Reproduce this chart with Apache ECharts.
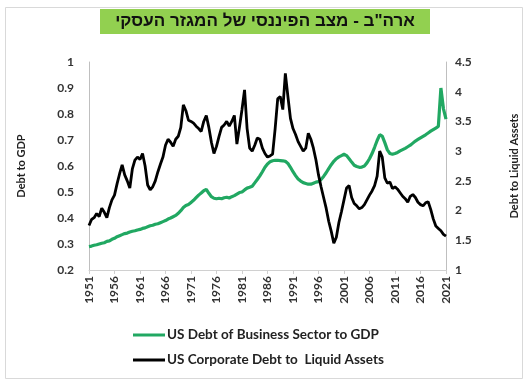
<!DOCTYPE html>
<html>
<head>
<meta charset="utf-8">
<script src="https://cdn.jsdelivr.net/npm/echarts@6/dist/echarts.min.js"></script>
<style>
  html, body { margin: 0; padding: 0; background: #fff; }
  #chart { width: 528px; height: 381px; }
</style>
</head>
<body>
<div id="chart"></div>
<script>
// Half-yearly observations, 1951 H1 .. 2021 H1
const years = [];
for (let y = 1951; y <= 2021; y++) years.push(y);

const tickYears = ['1951','1956','1961','1966','1971','1976','1981','1986','1991','1996','2001','2006','2011','2016','2021'];

// Period labels: H1 carries the year, H2 a suffix
const periods = [];
years.forEach(function (y) {
  periods.push(String(y));
  if (y < 2021) periods.push(y + '-H2');
});

// US debt of business sector to GDP (left axis)
const debtToGdp = [
  0.290, 0.292, 0.295, 0.297, 0.300, 0.303, 0.305, 0.310, 0.312, 0.318, // 1951-1955
  0.322, 0.328, 0.332, 0.336, 0.340, 0.342, 0.346, 0.349, 0.351, 0.354, // 1956-1960
  0.356, 0.360, 0.362, 0.366, 0.370, 0.372, 0.376, 0.378, 0.382, 0.386, // 1961-1965
  0.390, 0.396, 0.400, 0.405, 0.410, 0.418, 0.428, 0.440, 0.448, 0.452, // 1966-1970
  0.460, 0.468, 0.478, 0.488, 0.496, 0.505, 0.510, 0.495, 0.482, 0.476, // 1971-1975
  0.474, 0.476, 0.474, 0.478, 0.480, 0.477, 0.482, 0.486, 0.492, 0.498, // 1976-1980
  0.500, 0.508, 0.515, 0.518, 0.522, 0.535, 0.548, 0.562, 0.578, 0.595, // 1981-1985
  0.608, 0.616, 0.620, 0.622, 0.622, 0.621, 0.620, 0.618, 0.610, 0.595, // 1986-1990
  0.578, 0.563, 0.550, 0.542, 0.536, 0.533, 0.530, 0.530, 0.534, 0.538, // 1991-1995
  0.540, 0.548, 0.560, 0.574, 0.590, 0.605, 0.618, 0.628, 0.635, 0.640, // 1996-2000
  0.645, 0.640, 0.628, 0.615, 0.603, 0.598, 0.595, 0.596, 0.600, 0.612, // 2001-2005
  0.628, 0.648, 0.672, 0.698, 0.720, 0.715, 0.690, 0.662, 0.648, 0.645, // 2006-2010
  0.648, 0.652, 0.658, 0.663, 0.668, 0.674, 0.680, 0.688, 0.696, 0.702, // 2011-2015
  0.708, 0.714, 0.720, 0.727, 0.734, 0.740, 0.746, 0.752, 0.900, 0.820, // 2016-2020
  0.780                                                                  // 2021
];

// US corporate debt to liquid assets (right axis)
const debtToLiquid = [
  1.75, 1.85, 1.88, 1.95, 1.90, 2.04, 1.97, 1.88, 2.05, 2.18, // 1951-1955
  2.26, 2.45, 2.62, 2.77, 2.60, 2.50, 2.38, 2.70, 2.85, 2.90, // 1956-1960
  2.86, 2.96, 2.75, 2.43, 2.35, 2.40, 2.50, 2.65, 2.78, 2.90, // 1961-1965
  3.10, 3.20, 3.15, 3.08, 3.20, 3.25, 3.40, 3.78, 3.68, 3.52, // 1966-1970
  3.50, 3.47, 3.42, 3.38, 3.33, 3.50, 3.60, 3.40, 3.15, 2.96, // 1971-1975
  3.08, 3.25, 3.40, 3.44, 3.50, 3.42, 3.50, 3.60, 3.12, 3.40, // 1976-1980
  3.70, 4.03, 3.38, 3.05, 3.00, 3.10, 3.22, 3.20, 3.05, 2.96, // 1981-1985
  2.90, 2.92, 2.95, 3.38, 3.88, 3.92, 3.70, 4.31, 3.92, 3.55, // 1986-1990
  3.38, 3.28, 3.16, 3.08, 3.00, 3.05, 3.30, 3.20, 3.05, 2.85, // 1991-1995
  2.60, 2.40, 2.22, 2.04, 1.82, 1.65, 1.45, 1.55, 1.80, 1.98, // 1996-2000
  2.18, 2.38, 2.42, 2.22, 2.12, 2.08, 2.03, 2.05, 2.10, 2.18, // 2001-2005
  2.26, 2.33, 2.42, 2.58, 3.00, 2.90, 2.55, 2.46, 2.48, 2.37, // 2006-2010
  2.40, 2.36, 2.30, 2.24, 2.20, 2.14, 2.24, 2.27, 2.22, 2.14, // 2011-2015
  2.10, 2.08, 2.13, 2.15, 2.02, 1.86, 1.74, 1.70, 1.66, 1.60, // 2016-2020
  1.57                                                        // 2021
];

const seriesNames = ['US Debt of Business Sector to GDP', 'US Corporate Debt to  Liquid Assets'];
const titleText = 'ארה"ב - מצב הפיננסי של המגזר העסקי';

const FONT = 'Lato, "Open Sans", sans-serif';
const chart = echarts.init(document.getElementById('chart'));

const showTick = function (index, value) { return tickYears.indexOf(value) >= 0; };

chart.setOption({
  backgroundColor: '#ffffff',
  animation: false,
  graphic: [
    {
      type: 'rect',
      shape: { x: 5.5, y: 7.5, width: 517, height: 371 },
      style: { fill: 'none', stroke: '#d9d9d9', lineWidth: 1 }
    },
    {
      type: 'rect',
      shape: { x: 100, y: 9, width: 330, height: 25 },
      style: { fill: '#92d050' }
    },
    {
      type: 'text',
      x: 265,
      y: 21.5,
      style: {
        text: titleText,
        align: 'center',
        verticalAlign: 'middle',
        font: 'bold 17px "Liberation Sans", "DejaVu Sans", sans-serif',
        fill: '#111'
      }
    }
  ],
  legend: {
    orient: 'vertical',
    left: 128,
    top: 322,
    height: 56,
    icon: 'rect',
    itemWidth: 32,
    itemHeight: 3,
    itemGap: 9,
    data: seriesNames,
    textStyle: { fontFamily: FONT, fontWeight: 'bold', fontSize: 13.5, lineHeight: 16, color: '#222', padding: [0, 0, 0, -3] }
  },
  grid: { left: 89, right: 79, top: 62, bottom: 111, containLabel: false },
  xAxis: {
    type: 'category',
    data: periods,
    boundaryGap: false,
    axisLine: { lineStyle: { color: '#d0d0d0', width: 1 } },
    axisTick: { show: true, interval: showTick, length: 4, lineStyle: { color: '#d0d0d0' } },
    axisLabel: {
      interval: showTick,
      rotate: 90,
      margin: 6,
      fontFamily: FONT,
      fontWeight: 'bold',
      fontSize: 12,
      color: '#333'
    },
    splitLine: { show: false }
  },
  yAxis: [
    {
      type: 'value',
      min: 0.2, max: 1, interval: 0.1,
      name: 'Debt to GDP',
      nameLocation: 'middle',
      nameGap: 62,
      nameRotate: 90,
      nameTextStyle: { fontFamily: FONT, fontWeight: 'bold', fontSize: 11, color: '#222' },
      axisLine: { show: true, lineStyle: { color: '#bfbfbf' } },
      axisTick: { show: false },
      splitLine: { show: false },
      axisLabel: {
        fontFamily: FONT, fontWeight: 'bold', fontSize: 12, color: '#333', margin: 15,
        formatter: function (v) { return Math.round(v * 10) / 10 + ''; }
      }
    },
    {
      type: 'value',
      min: 1, max: 4.5, interval: 0.5,
      name: 'Debt to Liquid Assets',
      nameLocation: 'middle',
      nameGap: 63,
      nameRotate: 90,
      nameTextStyle: { fontFamily: FONT, fontWeight: 'bold', fontSize: 11, color: '#222' },
      axisLine: { show: true, lineStyle: { color: '#bfbfbf' } },
      axisTick: { show: false },
      splitLine: { show: false },
      axisLabel: {
        fontFamily: FONT, fontWeight: 'bold', fontSize: 12, color: '#333', margin: 9,
        formatter: function (v) { return Math.round(v * 10) / 10 + ''; }
      }
    }
  ],
  series: [
    {
      name: seriesNames[0],
      type: 'line',
      yAxisIndex: 0,
      data: debtToGdp,
      symbol: 'none',
      lineStyle: { color: '#21a862', width: 3.2 },
      itemStyle: { color: '#21a862' }
    },
    {
      name: seriesNames[1],
      type: 'line',
      yAxisIndex: 1,
      data: debtToLiquid,
      symbol: 'none',
      lineStyle: { color: '#000000', width: 2.8 },
      itemStyle: { color: '#000000' }
    }
  ]
});
</script>
</body>
</html>
